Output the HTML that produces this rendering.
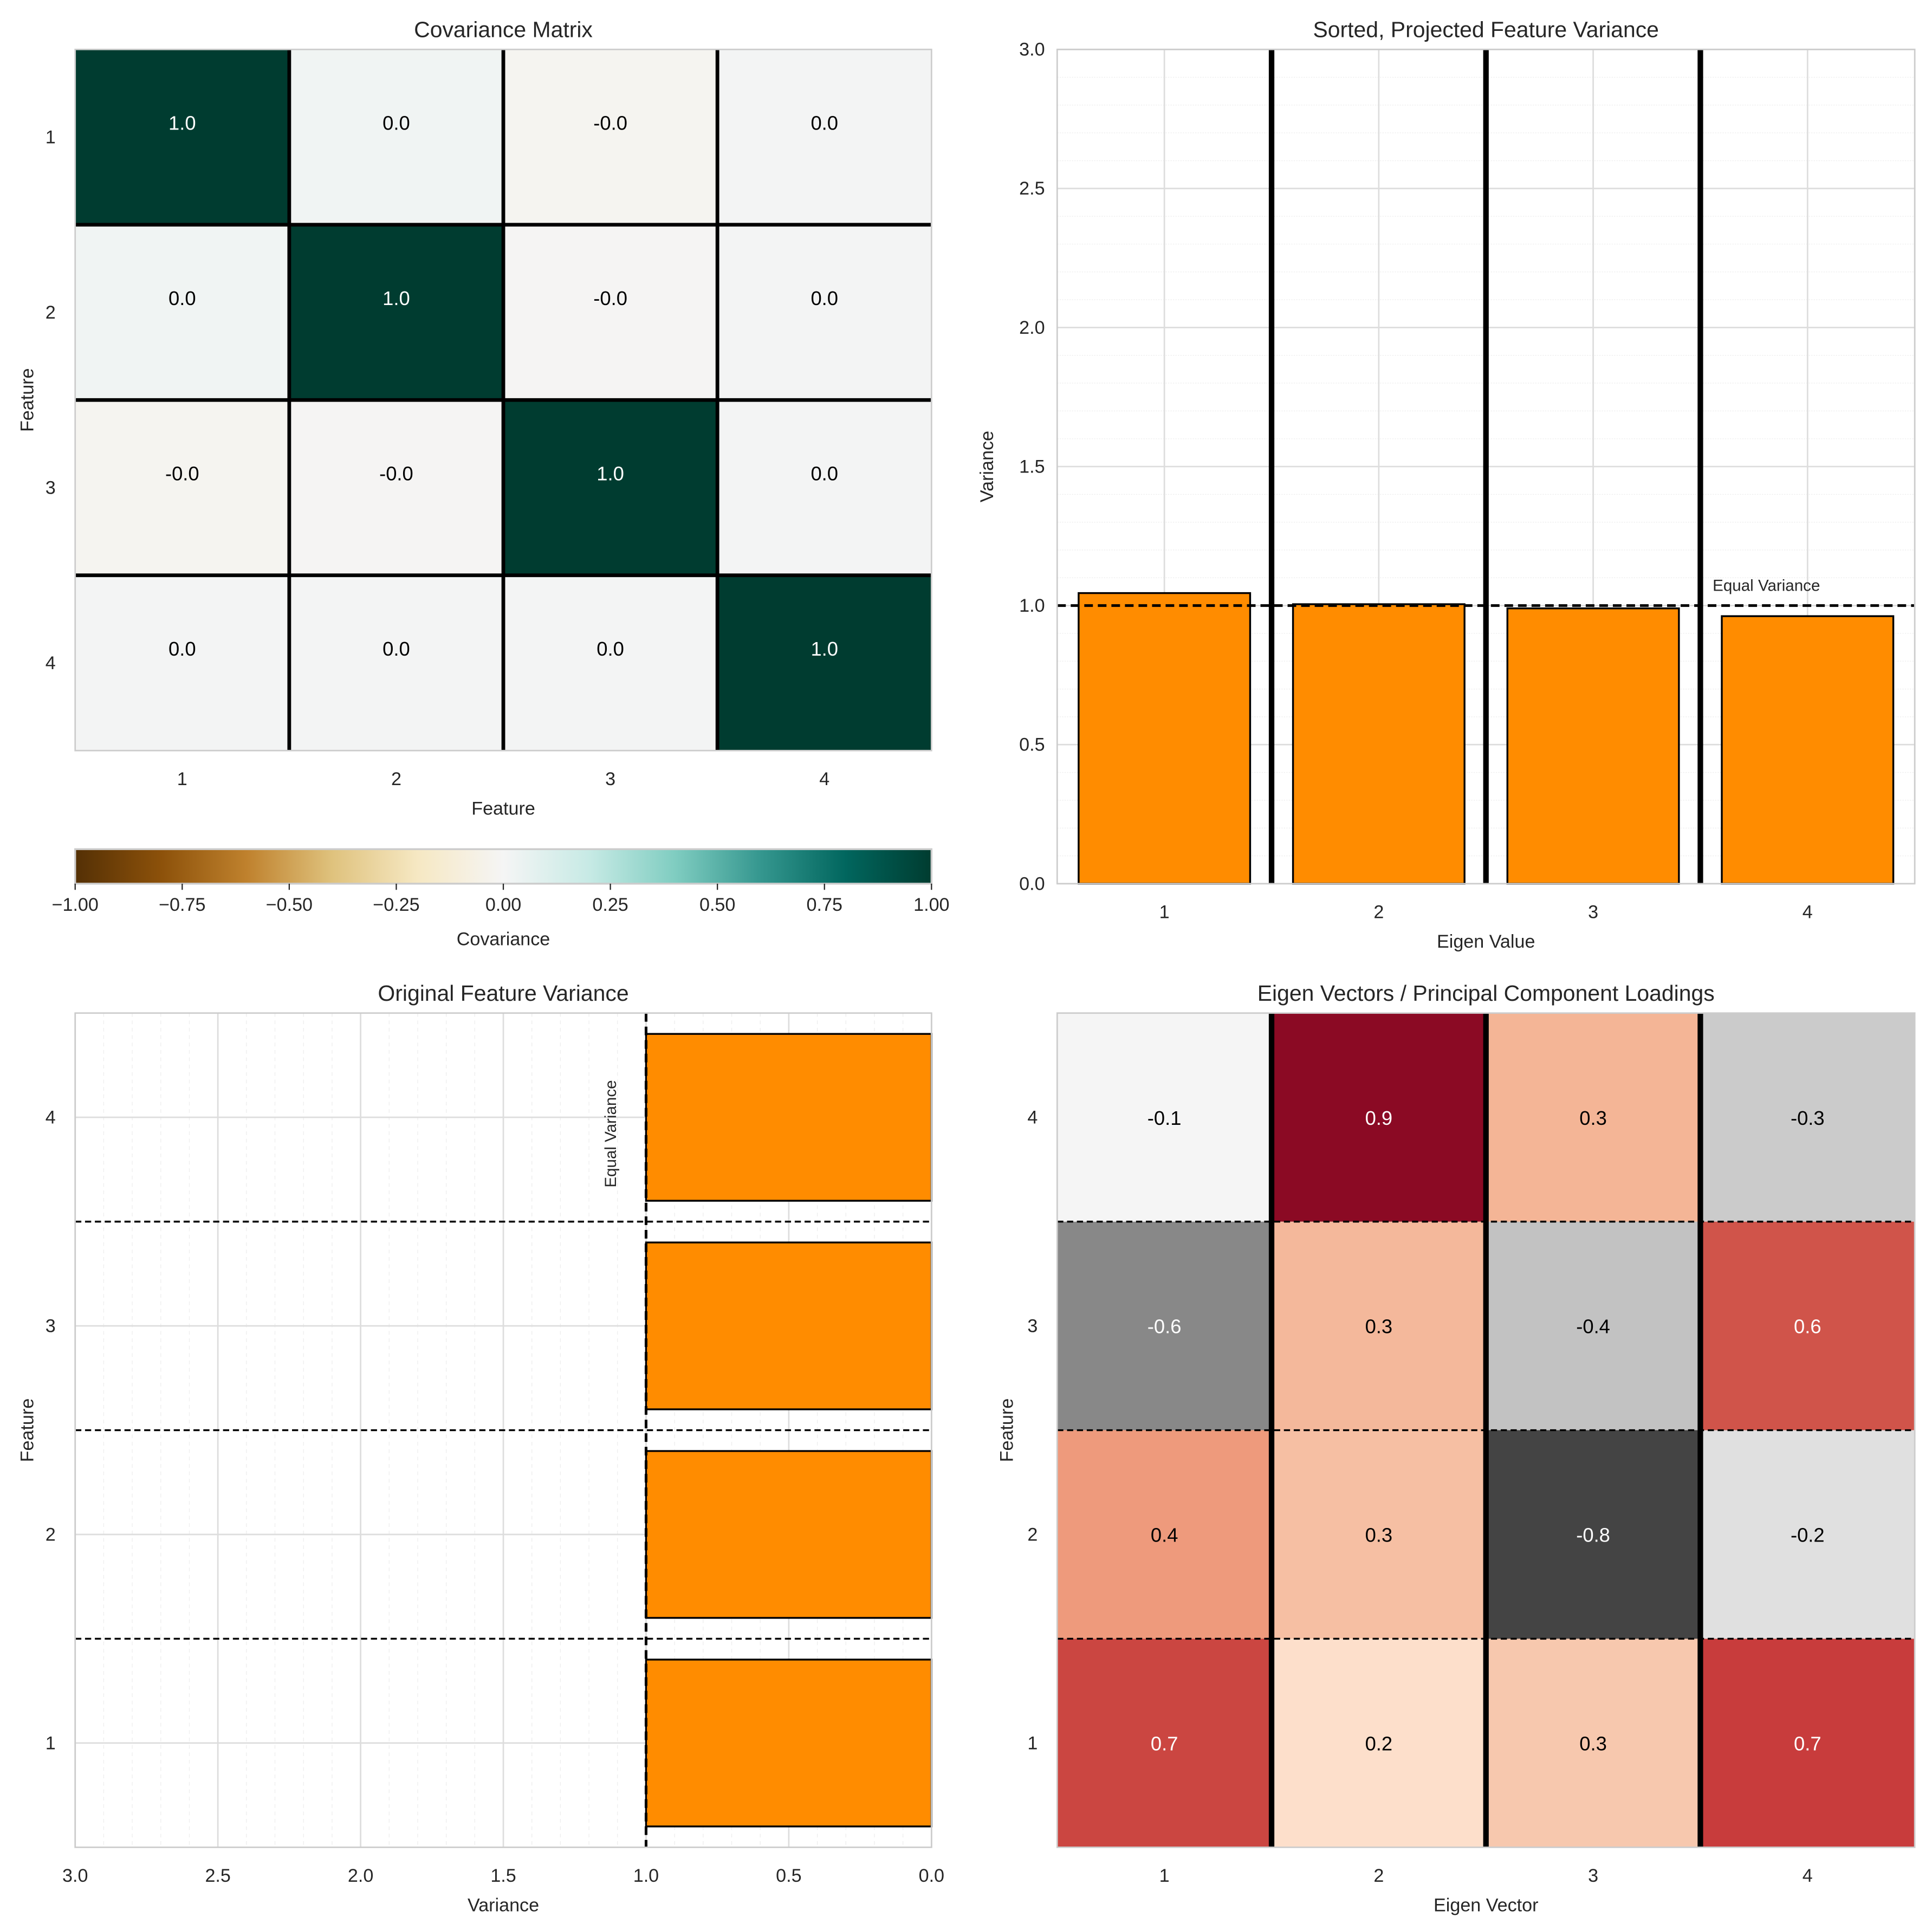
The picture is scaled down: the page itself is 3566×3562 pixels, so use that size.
<!DOCTYPE html>
<html><head><meta charset="utf-8"><style>
html,body{margin:0;padding:0;background:#fff;}
svg{display:block;font-family:"Liberation Sans",Arial,sans-serif;}
</style></head><body>
<svg id="fig" width="3566" height="3562" viewBox="0 0 1568 1566" xmlns="http://www.w3.org/2000/svg"></svg>
<script>
// ---- data ----
const covLabels = ['1','2','3','4'];
const covValues = [[1.0,0.02,-0.02,0.01],[0.02,1.0,-0.01,0.01],[-0.02,-0.01,1.0,0.01],[0.01,0.01,0.01,1.0]];
const covText = [['1.0','0.0','-0.0','0.0'],['0.0','1.0','-0.0','0.0'],['-0.0','-0.0','1.0','0.0'],['0.0','0.0','0.0','1.0']];
const cbTicks = [-1,-0.75,-0.5,-0.25,0,0.25,0.5,0.75,1];
const eigCats = ['1','2','3','4'];
const eigValues = [1.045,1.005,0.99,0.962];
const varTicks = [0,0.5,1,1.5,2,2.5,3];
const origCats = ['1','2','3','4'];
const origValues = [1.0,1.0,1.0,1.0];
// loadings rows = feature 1..4, columns = eigen vector 1..4
const loadings = [[0.7,0.2,0.3,0.7],[0.4,0.3,-0.8,-0.2],[-0.6,0.3,-0.4,0.6],[-0.1,0.9,0.3,-0.3]];
const loadColors = [['#cb4641','#fddfcb','#f7c8ae','#c83c3c'],['#ee9a7c','#f6bfa3','#444444','#e0e0e0'],['#888888','#f4b89b','#c2c2c2','#d0544a'],['#f5f5f5','#8b0a24','#f4b596','#cbcbcb']];

const NS='http://www.w3.org/2000/svg';
const svg=document.getElementById('fig');
function el(tag,attrs,parent){const e=document.createElementNS(NS,tag);for(const k in attrs)e.setAttribute(k,attrs[k]);(parent||svg).appendChild(e);return e;}
function txt(x,y,s,size,opts,parent){const t=el('text',Object.assign({x:x,y:y,'font-size':size,fill:'#262626','text-anchor':'middle'},opts||{}),parent);t.textContent=s;return t;}

const brbg=[[84,48,5],[140,81,10],[191,129,45],[223,194,125],[246,232,195],[245,245,245],[199,234,229],[128,205,193],[53,151,143],[1,102,94],[0,60,48]];
function cmap(v){let t=(v+1)/2*(brbg.length-1);let i=Math.min(Math.floor(t),brbg.length-2);let f=t-i;const a=brbg[i],b=brbg[i+1];return 'rgb('+a.map((c,k)=>Math.round(c+(b[k]-c)*f)).join(',')+')';}

// ===== Panel 1 =====
{
const g=el('g',{});


const L=61,T=40,W=695,H=569,n=covLabels.length,cw=W/n,ch=H/n;
for(let r=0;r<n;r++)for(let c=0;c<n;c++){
 const v=covValues[r][c];
 const rc=el('rect',{x:L+c*cw,y:T+r*ch,width:cw,height:ch,fill:cmap(v)},g);
 
 
 txt(L+c*cw+cw/2,T+r*ch+ch/2-6,covText[r][c],16,{fill:v>0.5?'#fff':'#000'},g);
}
for(let i=1;i<n;i++){el('line',{x1:L+i*cw,x2:L+i*cw,y1:T,y2:T+H,stroke:'#000','stroke-width':3},g);el('line',{x1:L,x2:L+W,y1:T+i*ch,y2:T+i*ch,stroke:'#000','stroke-width':3},g);}
el('rect',{x:L,y:T,width:W,height:H,fill:'none',stroke:'#ccc','stroke-width':1.2},g);
for(let i=0;i<n;i++){txt(L+i*cw+cw/2,T+H+28,covLabels[i],15,{},g);txt(L-20,T+i*ch+ch/2+5,covLabels[i],15,{},g);}
txt(L+W/2,T+H+52,'Feature',15,{},g);
txt(27,T+H/2,'Feature',15,{transform:'rotate(-90 27 '+(T+H/2)+')'},g);
txt(L+W/2,T-10,'Covariance Matrix',18,{},g);
const cb=el('g',{},g);


const defs=el('defs',{},cb);const lg=el('linearGradient',{id:'brbg',x1:0,x2:1,y1:0,y2:0},defs);
brbg.forEach((c,i)=>el('stop',{offset:i/(brbg.length-1),'stop-color':'rgb('+c.join(',')+')'},lg));
const cy=689,chh=28;
el('rect',{x:L,y:cy,width:W,height:chh,fill:'url(#brbg)',stroke:'#ccc','stroke-width':1.5},cb);
cbTicks.forEach(v=>{const x=L+(v+1)/2*W;el('line',{x1:x,x2:x,y1:cy+chh,y2:cy+chh+5,stroke:'#262626','stroke-width':1},cb);txt(x,cy+chh+22,v.toFixed(2).replace('-','\u2212'),15,{},cb);});
txt(L+W/2,cy+chh+50,'Covariance',15,{},cb);
}

// ===== Panel 2 =====
{
const g=el('g',{});


const L=858,T=40,W=696,H=677,ymax=3;
const X=i=>L+(i+0.5)*W/eigCats.length, Y=v=>T+H-v/ymax*H, bw=0.8*W/eigCats.length;
for(let m=0;m<=30;m++){if(m%5)el('line',{x1:L,x2:L+W,y1:Y(m/10),y2:Y(m/10),stroke:'#eee','stroke-width':0.6,'stroke-dasharray':'1,1'},g);}
varTicks.forEach(v=>{el('line',{x1:L,x2:L+W,y1:Y(v),y2:Y(v),stroke:'#ddd','stroke-width':1.2},g);txt(L-10,Y(v)+5,v.toFixed(1),15,{'text-anchor':'end'},g);});
eigCats.forEach((c,i)=>{el('line',{x1:X(i),x2:X(i),y1:T,y2:T+H,stroke:'#ddd','stroke-width':1.2},g);txt(X(i),T+H+28,c,15,{},g);});
eigValues.forEach((v,i)=>{const r=el('rect',{x:X(i)-bw/2,y:Y(v),width:bw,height:Y(0)-Y(v),fill:'#ff8c00',stroke:'#000','stroke-width':1.5},g);
 
 });
for(let i=1;i<eigCats.length;i++){const x=L+i*W/eigCats.length;el('line',{x1:x,x2:x,y1:T,y2:T+H,stroke:'#000','stroke-width':4.5},g);}
el('line',{x1:L,x2:L+W,y1:Y(1),y2:Y(1),stroke:'#000','stroke-width':2.2,'stroke-dasharray':'7,4'},g);
txt(1390,Y(1)-12,'Equal Variance',13,{'text-anchor':'start'},g);
el('rect',{x:L,y:T,width:W,height:H,fill:'none',stroke:'#ccc','stroke-width':1.2},g);
txt(L+W/2,T+H+52,'Eigen Value',15,{},g);
txt(806,T+H/2,'Variance',15,{transform:'rotate(-90 806 '+(T+H/2)+')'},g);
txt(L+W/2,T-10,'Sorted, Projected Feature Variance',18,{},g);
}

// ===== Panel 3 =====
{
const g=el('g',{});


const L=61,T=822,W=695,H=677,xmax=3,n=origCats.length;
const X=v=>L+W-v/xmax*W, Y=i=>T+H-(i+0.5)*H/n, bh=0.8*H/n;
for(let m=0;m<=30;m++){if(m%5)el('line',{x1:X(m/10),x2:X(m/10),y1:T,y2:T+H,stroke:'#eee','stroke-width':0.6,'stroke-dasharray':'3,3'},g);}
varTicks.forEach(v=>{el('line',{x1:X(v),x2:X(v),y1:T,y2:T+H,stroke:'#ddd','stroke-width':1.2},g);txt(X(v),T+H+28,v.toFixed(1),15,{},g);});
origCats.forEach((c,i)=>{el('line',{x1:L,x2:L+W,y1:Y(i),y2:Y(i),stroke:'#ddd','stroke-width':1.2},g);txt(L-20,Y(i)+5,c,15,{},g);});
origValues.forEach((v,i)=>{const r=el('rect',{x:X(v),y:Y(i)-bh/2,width:X(0)-X(v),height:bh,fill:'#ff8c00',stroke:'#000','stroke-width':1.5},g);
 
 });
for(let i=1;i<n;i++){const y=T+H-i*H/n;el('line',{x1:L,x2:L+W,y1:y,y2:y,stroke:'#000','stroke-width':1.5,'stroke-dasharray':'5,3'},g);}
el('line',{x1:X(1),x2:X(1),y1:T,y2:T+H,stroke:'#000','stroke-width':2.2,'stroke-dasharray':'7,4'},g);
txt(500,920,'Equal Variance',13,{transform:'rotate(-90 500 920)','text-anchor':'middle'},g);
el('rect',{x:L,y:T,width:W,height:H,fill:'none',stroke:'#ccc','stroke-width':1.2},g);
txt(L+W/2,T+H+52,'Variance',15,{},g);
txt(27,T+H/2,'Feature',15,{transform:'rotate(-90 27 '+(T+H/2)+')'},g);
txt(L+W/2,T-10,'Original Feature Variance',18,{},g);
}

// ===== Panel 4 =====
{
const g=el('g',{});


const L=858,T=822,W=696,H=677,n=loadings.length,cw=W/n,ch=H/n;
for(let r=0;r<n;r++)for(let c=0;c<n;c++){
 const v=loadings[r][c];const y=T+H-(r+1)*ch;
 const rc=el('rect',{x:L+c*cw,y:y,width:cw,height:ch,fill:loadColors[r][c]},g);
 
 
 txt(L+c*cw+cw/2,y+ch/2+6,v.toFixed(1),16,{fill:(Math.abs(v)>=0.55)?'#fff':'#000'},g);
}
for(let i=1;i<n;i++){el('line',{x1:L,x2:L+W,y1:T+i*ch,y2:T+i*ch,stroke:'#000','stroke-width':1.5,'stroke-dasharray':'5,3'},g);}
for(let i=1;i<n;i++){el('line',{x1:L+i*cw,x2:L+i*cw,y1:T,y2:T+H,stroke:'#000','stroke-width':4.5},g);}
el('rect',{x:L,y:T,width:W,height:H,fill:'none',stroke:'#ccc','stroke-width':1.2},g);
for(let i=0;i<n;i++){txt(L+i*cw+cw/2,T+H+28,String(i+1),15,{},g);txt(L-20,T+H-(i+0.5)*ch+5,String(i+1),15,{},g);}
txt(L+W/2,T+H+52,'Eigen Vector',15,{},g);
txt(822,T+H/2,'Feature',15,{transform:'rotate(-90 822 '+(T+H/2)+')'},g);
txt(L+W/2,T-10,'Eigen Vectors / Principal Component Loadings',18,{},g);
}
</script>
</body></html>
